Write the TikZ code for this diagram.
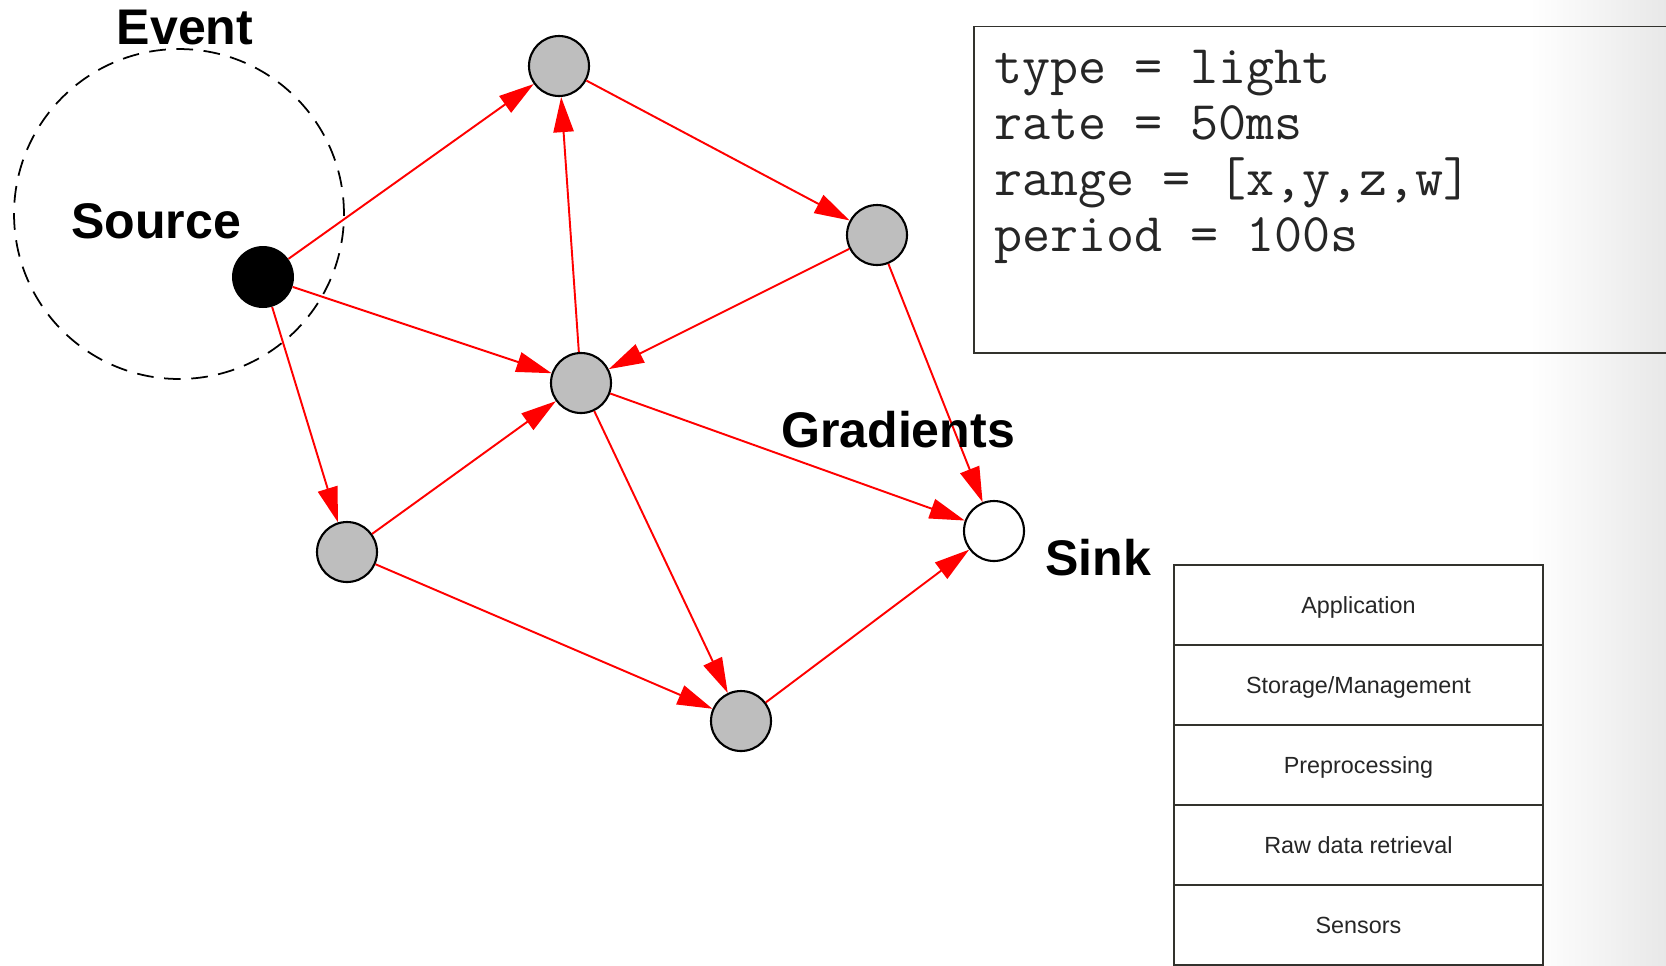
\documentclass[tikz,border=0pt]{standalone}
\usepackage{fontspec}
\setmainfont{Liberation Sans}
\usetikzlibrary{arrows.meta,positioning}
\definecolor{nodegray}{RGB}{190,190,190}
\definecolor{linkred}{RGB}{255,0,0}
\definecolor{framegray}{RGB}{50,50,45}

\begin{document}
\begin{tikzpicture}[x=0.02cm, y=-0.02cm,
    sensor/.style={circle, draw=black, line width=1.2pt, fill=nodegray,
                   minimum size=1.2cm, inner sep=0pt},
    link/.style={draw=linkred, line width=1.1pt,
                 -{Triangle[length=20pt, width=11.5pt]}},
    bigtext/.style={font=\bfseries\fontsize{28.5pt}{34pt}\selectfont, anchor=base, inner sep=0pt},
    codeline/.style={font=\ttfamily\fontsize{31pt}{36pt}\selectfont, anchor=base west,
                     inner sep=0pt, text=black!85},
    layer/.style={draw=framegray, line width=0.9pt, fill=white, minimum width=7.38cm,
                  minimum height=1.6cm, outer sep=0pt, text depth=0pt,
                  font=\fontsize{13.3pt}{15pt}\selectfont, text=black!85}
]
    \def \rowheight {80};

    % page and the grey fade on the right
    \useasboundingbox (0,0) rectangle (1666,965);
    \fill[white] (0,0) rectangle (1666,965);
    \shade[left color=white, right color=black!9] (1530,0) rectangle (1666,965);

    % event area round the source
    \node[circle, draw, line width=1pt, dash pattern=on 9.5pt off 6pt,
          minimum size=6.6cm] (zone) at (179,214) {};

    % the sensor nodes
    \node[circle, fill=black, minimum size=1.24cm, inner sep=0pt] (src) at (263,277) {};
    \node[sensor] (top) at (559,66) {};
    \node[sensor] (ru) at (877,235) {};
    \node[sensor] (mid) at (581,383) {};
    \node[sensor] (ll) at (347,552) {};
    \node[sensor] (bot) at (741,721) {};
    \node[sensor, fill=white] (sink) at (994,531) {};

    % gradients towards the sink
    \foreach \a/\b in {src/top, src/mid, src/ll, top/ru, mid/top, ru/mid,
                       ru/sink, mid/sink, mid/bot, ll/mid, ll/bot, bot/sink} {
        \draw[link] (\a) -- (\b);
    }

    \node[bigtext] (eventlbl) at (185,44.6) {Event};
    \node[bigtext] (sourcelbl) at (156,238) {Source};
    \node[bigtext] (gradlbl) at (898,447) {Gradients};
    \node[bigtext] (sinklbl) at (1098,575) {Sink};

    % interest message
    \node[draw=framegray, line width=1pt, anchor=north west, minimum width=15cm,
          minimum height=6.53cm, outer sep=0pt] (interest) at (974,26.6) {};
    \foreach \txt [count=\i] in {{type = light}, {rate = 50ms},
                                 {range = [x,y,z,w]}, {period = 100s}} {
        \node[codeline] (line\i) at (994, 83+56.3*\i-56.3) {\txt};
    }

    % layers of a node
    \foreach \txt [count=\i] in {Application, Storage/Management, Preprocessing,
                                 Raw data retrieval, Sensors} {
        \node[layer] (layer\i) at (1358.5, 605+\rowheight*\i-\rowheight) {\txt};
    }
\end{tikzpicture}
\end{document}
